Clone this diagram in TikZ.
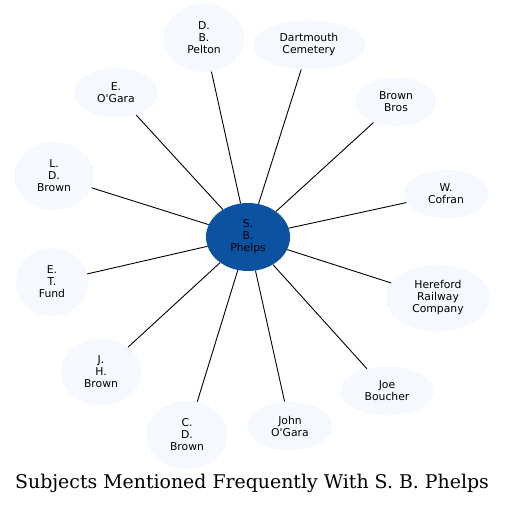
\documentclass[tikz,border=0pt]{standalone}
\usepackage{fontspec}
\newfontfamily\labelfont{DejaVu Sans}
\newfontfamily\titlefont{DejaVu Serif}
\usetikzlibrary{shapes.geometric, positioning}
\definecolor{hubblue}{RGB}{11,82,160}
\definecolor{leafblue}{RGB}{245,249,254}

\begin{document}
\begin{tikzpicture}[
			x=1pt, y=-1pt,
			hub/.style={ellipse, fill=hubblue, minimum width=84pt, minimum height=68pt, inner sep=0pt, align=center, font=\labelfont\fontsize{10.8}{12}\selectfont},
			subject/.style={ellipse, fill=leafblue, inner sep=0pt, align=center, font=\labelfont\fontsize{10.8}{12}\selectfont},
			link/.style={draw=black, line width=0.9pt}
			]
			\useasboundingbox (0,0) rectangle (505,505);
			
			% Central person
			\node[hub] (phelps) at (248,237) {S.\\B.\\Phelps};
			
			% Subjects around
			\node[subject, minimum width=81pt, minimum height=68pt] (pelton) at (204,38) {D.\\B.\\Pelton};
			\node[subject, minimum width=113pt, minimum height=49pt] (cemetery) at (309,45) {Dartmouth\\Cemetery};
			\node[subject, minimum width=81pt, minimum height=49pt] (bros) at (396,102) {Brown\\Bros};
			\node[subject, minimum width=84pt, minimum height=50pt] (eogara) at (116,93) {E.\\O'Gara};
			\node[subject, minimum width=80pt, minimum height=68pt] (ldbrown) at (54,176) {L.\\D.\\Brown};
			\node[subject, minimum width=84pt, minimum height=49pt] (cofran) at (446,194) {W.\\Cofran};
			\node[subject, minimum width=72pt, minimum height=68pt] (fund) at (52,282) {E.\\T.\\Fund};
			\node[subject, minimum width=104pt, minimum height=67pt] (railway) at (438,298) {Hereford\\Railway\\Company};
			\node[subject, minimum width=80pt, minimum height=67pt] (jhbrown) at (101,372) {J.\\H.\\Brown};
			\node[subject, minimum width=81pt, minimum height=68pt] (cdbrown) at (187,435) {C.\\D.\\Brown};
			\node[subject, minimum width=84pt, minimum height=49pt] (johnogara) at (290,426) {John\\O'Gara};
			\node[subject, minimum width=94pt, minimum height=49pt] (boucher) at (387,391) {Joe\\Boucher};
			
			% Links
			\draw[link] (phelps) -- (pelton);
			\draw[link] (phelps) -- (cemetery);
			\draw[link] (phelps) -- (bros);
			\draw[link] (phelps) -- (eogara);
			\draw[link] (phelps) -- (ldbrown);
			\draw[link] (phelps) -- (cofran);
			\draw[link] (phelps) -- (fund);
			\draw[link] (phelps) -- (railway);
			\draw[link] (phelps) -- (jhbrown);
			\draw[link] (phelps) -- (cdbrown);
			\draw[link] (phelps) -- (johnogara);
			\draw[link] (phelps) -- (boucher);
			
			% Title
			\node[font=\titlefont\fontsize{18.9}{22}\selectfont] (title) at (252,483) {Subjects Mentioned Frequently With S. B. Phelps};
			
		\end{tikzpicture}
\end{document}
